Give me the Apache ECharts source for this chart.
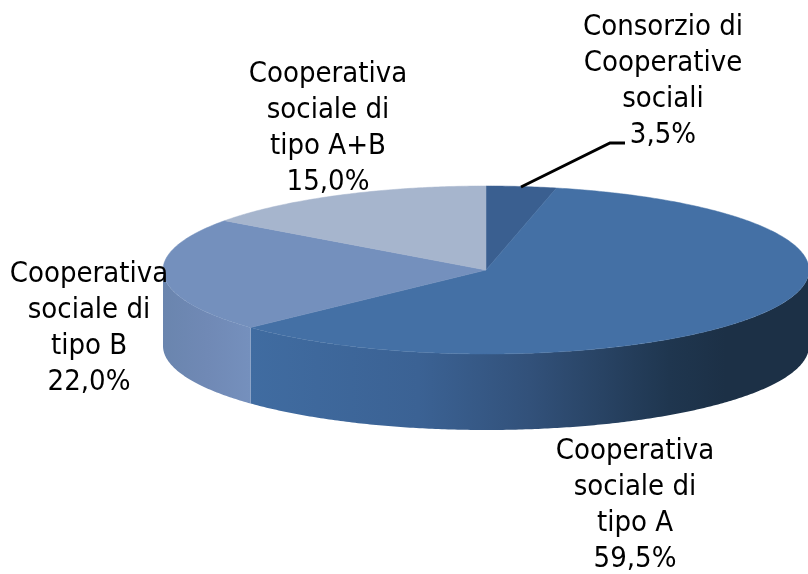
<!DOCTYPE html>
<html>
<head>
<meta charset="utf-8">
<style>
  html, body { margin: 0; padding: 0; background: #fff; }
  #chart { width: 808px; height: 574px; }
</style>
<script src="https://cdn.jsdelivr.net/npm/echarts@6/dist/echarts.min.js"></script>
</head>
<body>
<div id="chart"></div>
<script>
// clockwise from 12 o'clock
const categories = [
  "Consorzio di\nCooperative\nsociali",
  "Cooperativa\nsociale di\ntipo A",
  "Cooperativa\nsociale di\ntipo B",
  "Cooperativa\nsociale di\ntipo A+B",
];
const values = [3.5, 59.5, 22.0, 15.0];

const topColors = ["#3a5f90", "#4470a5", "#7490bd", "#a6b5cd"];
const wallStops = [
  null,
  [[0, "#406ca1"], [0.3, "#3b6294"], [0.5, "#32517a"], [0.75, "#1f364f"], [0.85, "#1c3046"], [1, "#1c3046"]],
  [[0, "#6a85ae"], [0.5, "#7089b5"], [1, "#7590bd"]],
  null,
];
const labelPos = [
  [663, 81],
  [635, 505],
  [89, 328],
  [328, 128],
];

const cx = 486, cy = 270, rx = 323, ry = 84, depth = 76;
const total = values.reduce((a, b) => a + b, 0);

function arc(a0, a1, dy) {
  const pts = [];
  const n = Math.max(2, Math.ceil((a1 - a0) / 0.01));
  for (let i = 0; i <= n; i++) {
    const a = a0 + ((a1 - a0) * i) / n;
    pts.push([cx + rx * Math.sin(a), cy - ry * Math.cos(a) + dy]);
  }
  return pts;
}

function renderSlice(params, api) {
  const i = params.dataIndex;
  let sum = 0;
  for (let k = 0; k < i; k++) sum += values[k];
  const a0 = (sum / total) * 2 * Math.PI;
  const a1 = ((sum + api.value(0)) / total) * 2 * Math.PI;
  const children = [];

  // front wall only, between 3 and 9 o'clock
  const w0 = Math.max(a0, Math.PI / 2);
  const w1 = Math.min(a1, (3 * Math.PI) / 2);
  if (w1 > w0) {
    const topEdge = arc(w0, w1, 0);
    const xs = topEdge.map((p) => p[0]);
    const x0 = Math.min(...xs), x1 = Math.max(...xs);
    // stops run left to right
    const fill = new echarts.graphic.LinearGradient(
      x0, 0, x1, 0,
      wallStops[i].map((s) => ({ offset: s[0], color: s[1] })),
      true
    );
    children.push({
      type: "polygon",
      z2: 1,
      shape: { points: topEdge.concat(arc(w0, w1, depth).reverse()) },
      style: { fill: fill },
    });
  }

  children.push({
    type: "polygon",
    z2: 2,
    shape: { points: [[cx, cy]].concat(arc(a0, a1, 0)) },
    style: { fill: topColors[i], stroke: topColors[i], lineWidth: 0.5 },
  });

  children.push({
    type: "text",
    z2: 10,
    style: {
      x: labelPos[i][0],
      y: labelPos[i][1],
      text: categories[i] + "\n" + api.value(0).toFixed(1).replace(".", ",") + "%",
      fill: "#000",
      font: '29px "DejaVu Sans Condensed", "DejaVu Sans", sans-serif',
      lineHeight: 36,
      align: "center",
      verticalAlign: "middle",
    },
  });

  if (i === 0) {
    children.push({
      type: "polyline",
      z2: 5,
      shape: { points: [[521, 187], [610, 143], [625, 143]] },
      style: { stroke: "#000", lineWidth: 3, fill: null },
    });
  }
  return { type: "group", children: children };
}

const chart = echarts.init(document.getElementById("chart"));
chart.setOption({
  animation: false,
  backgroundColor: "#fff",
  series: [
    {
      type: "custom",
      coordinateSystem: "none",
      renderItem: renderSlice,
      data: values.map((v) => [v]),
    },
  ],
});
</script>
</body>
</html>
